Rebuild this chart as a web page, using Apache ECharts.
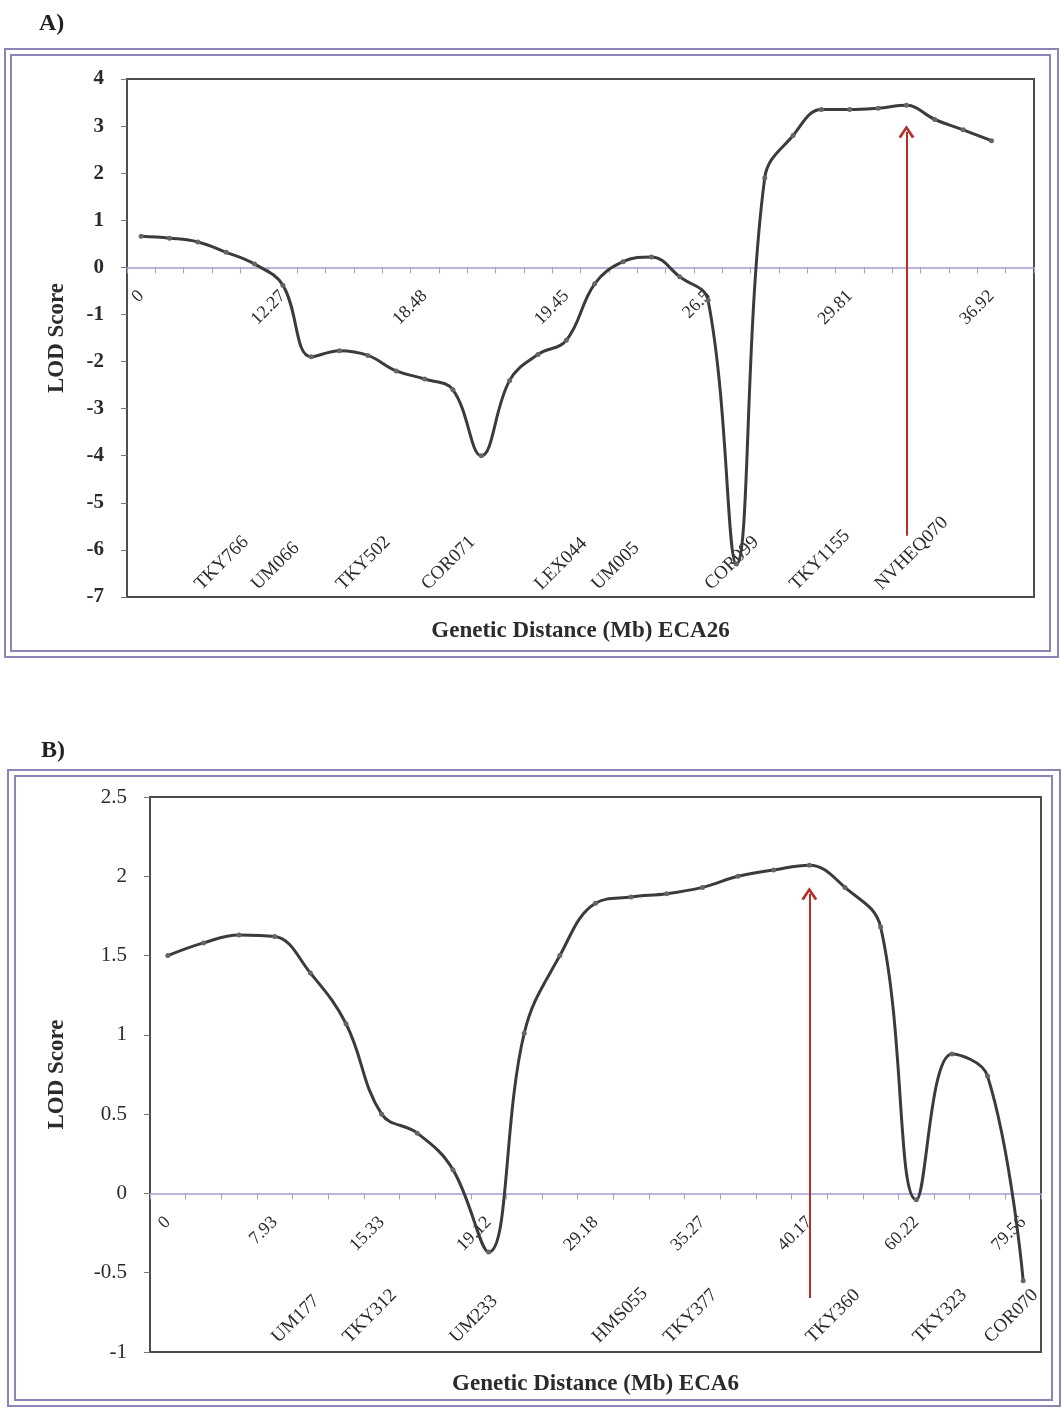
<!DOCTYPE html>
<html>
<head>
<meta charset="utf-8">
<title>LOD Score - ECA26 / ECA6</title>
<script src="https://cdn.jsdelivr.net/npm/echarts@6/dist/echarts.min.js"></script>
<style>
  html, body { margin: 0; padding: 0; background: #fff; }
  #chart { width: 1063px; height: 1409px; }
</style>
</head>
<body>
<div id="chart"></div>
<script>
// A) ECA26
const distA = ['0', '', '', '', '', '12.27', '', '', '', '', '18.48', '', '', '', '', '19.45', '', '', '', '', '26.5', '', '', '', '', '29.81', '', '', '', '', '36.92', ''];
const markersA = ['', '', 'TKY766', '', 'UM066', '', '', 'TKY502', '', '', 'COR071', '', '', '', 'LEX044', '', 'UM005', '', '', '', 'COR099', '', '', 'TKY1155', '', '', 'NVHEQ070', '', '', '', '', ''];
const lodA = [0.66, 0.62, 0.54, 0.32, 0.07, -0.38, -1.9, -1.77, -1.87, -2.2, -2.37, -2.6, -4.0, -2.4, -1.85, -1.55, -0.35, 0.12, 0.22, -0.2, -0.7, -6.3, 1.9, 2.8, 3.35, 3.35, 3.38, 3.44, 3.14, 2.92, 2.69];
const arrowA = { cat: 27, from: -5.7, to: 2.88 };

// B) ECA6
const distB = ['0', '', '', '7.93', '', '', '15.33', '', '', '19.12', '', '', '29.18', '', '', '35.27', '', '', '40.17', '', '', '60.22', '', '', '79.56'];
const markersB = ['', '', '', 'UM177', '', 'TKY312', '', '', 'UM233', '', '', '', 'HMS055', '', 'TKY377', '', '', '', 'TKY360', '', '', 'TKY323', '', 'COR070', ''];
const lodB = [1.50, 1.58, 1.63, 1.62, 1.39, 1.07, 0.50, 0.38, 0.15, -0.37, 1.01, 1.50, 1.83, 1.87, 1.89, 1.93, 2.00, 2.04, 2.07, 1.93, 1.68, -0.04, 0.88, 0.74, -0.55];
const arrowB = { cat: 18, from: -0.66, to: 1.89 };

const FONT = 'Liberation Serif';
const TXT = '#2b2b2b';
const ZERO = '#a99bd0';
const chevron = 'path://M0,9 L5,0 L10,9 L8.4,10 L5,3.4 L1.6,10 Z';

const grids = [
    { left: 127, right: 29, top: 79, height: 518, show: true, borderColor: '#4d4d4d', borderWidth: 2 },
    { left: 150, right: 22, top: 797, height: 555, show: true, borderColor: '#4d4d4d', borderWidth: 2 }
];
const yRange = [[-7, 4, 1], [-1, 2.5, 0.5]];

const chart = echarts.init(document.getElementById('chart'), null, { renderer: 'canvas' });

function xAxes(g, dist, markers, name, markerMargin, nameGap) {
    const ids = dist.map((d, i) => 'c' + i);
    const r = yRange[g];
    // lift the labelled axis from the grid bottom up to LOD = 0
    const zeroOffset = -grids[g].height * (0 - r[0]) / (r[1] - r[0]);
    return [{
        type: 'category',
        gridIndex: g,
        data: ids,
        position: 'bottom',
        offset: zeroOffset,
        boundaryGap: true,
        axisLine: { onZero: false, lineStyle: { color: ZERO, width: 1.5 } },
        axisTick: { show: true, length: 6, interval: 0, lineStyle: { color: ZERO } },
        axisLabel: {
            interval: 0, rotate: 45, margin: 26,
            fontFamily: FONT, fontSize: 18, color: TXT,
            formatter: (v, i) => dist[i]
        },
        splitLine: { show: false }
    }, {
        type: 'category',
        gridIndex: g,
        data: ids,
        position: 'bottom',
        axisLine: { show: false, onZero: false },
        axisTick: { show: false },
        axisLabel: {
            inside: true, interval: 0, rotate: 45, margin: markerMargin,
            fontFamily: FONT, fontSize: 19, color: TXT,
            formatter: (v, i) => markers[i]
        },
        splitLine: { show: false },
        name: name,
        nameLocation: 'middle',
        nameGap: nameGap,
        nameTextStyle: { fontFamily: FONT, fontSize: 23, fontWeight: 'bold', color: TXT }
    }];
}

function yAxis(g, gap, bold) {
    const r = yRange[g];
    return {
        type: 'value',
        gridIndex: g,
        min: r[0], max: r[1], interval: r[2],
        axisLine: { show: true, lineStyle: { color: '#4d4d4d', width: 2 } },
        axisTick: { show: true, length: 6, lineStyle: { color: '#777' } },
        axisLabel: { margin: 23, fontFamily: FONT, fontSize: 21, fontWeight: bold ? 'bold' : 'normal', color: TXT },
        splitLine: { show: false },
        name: 'LOD Score',
        nameLocation: 'middle',
        nameGap: gap,
        nameRotate: 90,
        nameTextStyle: { fontFamily: FONT, fontSize: 23, fontWeight: 'bold', color: TXT }
    };
}

function lineSeries(g, lod, arrow) {
    const cat = 'c' + arrow.cat;
    return {
        type: 'line',
        xAxisIndex: g * 2,
        yAxisIndex: g,
        data: lod,
        smooth: 0.4,
        symbol: 'circle',
        symbolSize: 5,
        lineStyle: { color: '#3b3b3b', width: 3 },
        itemStyle: { color: '#666' },
        z: 3,
        markLine: {
            silent: true,
            symbol: ['none', chevron],
            symbolSize: [16, 13],
            label: { show: false },
            lineStyle: { color: '#b3302a', width: 2, type: 'solid' },
            data: [[{ coord: [cat, arrow.from] }, { coord: [cat, arrow.to] }]]
        }
    };
}

const frame = (x, y, w, h) => ({
    type: 'rect', silent: true,
    shape: { x: x, y: y, width: w, height: h },
    style: { fill: 'none', stroke: '#8c84b6', lineWidth: 2 }
});

const option = {
    animation: false,
    backgroundColor: '#fff',
    title: [
        { text: 'A)', left: 34, top: 7, textStyle: { fontFamily: FONT, fontSize: 24, fontWeight: 'bold', color: '#222' } },
        { text: 'B)', left: 36, top: 734, textStyle: { fontFamily: FONT, fontSize: 24, fontWeight: 'bold', color: '#222' } }
    ],
    graphic: [
        frame(5, 49, 1053, 608), frame(11, 55, 1039, 596),
        frame(8, 770, 1052, 636), frame(15, 776, 1037, 624)
    ],
    grid: grids,
    xAxis: [].concat(
        xAxes(0, distA, markersA, 'Genetic Distance (Mb) ECA26', 10, 23),
        xAxes(1, distB, markersB, 'Genetic Distance (Mb) ECA6', 12, 21)
    ),
    yAxis: [
        yAxis(0, 58, true),
        yAxis(1, 81, false)
    ],
    series: [
        lineSeries(0, lodA, arrowA),
        lineSeries(1, lodB, arrowB)
    ]
};

chart.setOption(option);
</script>
</body>
</html>
